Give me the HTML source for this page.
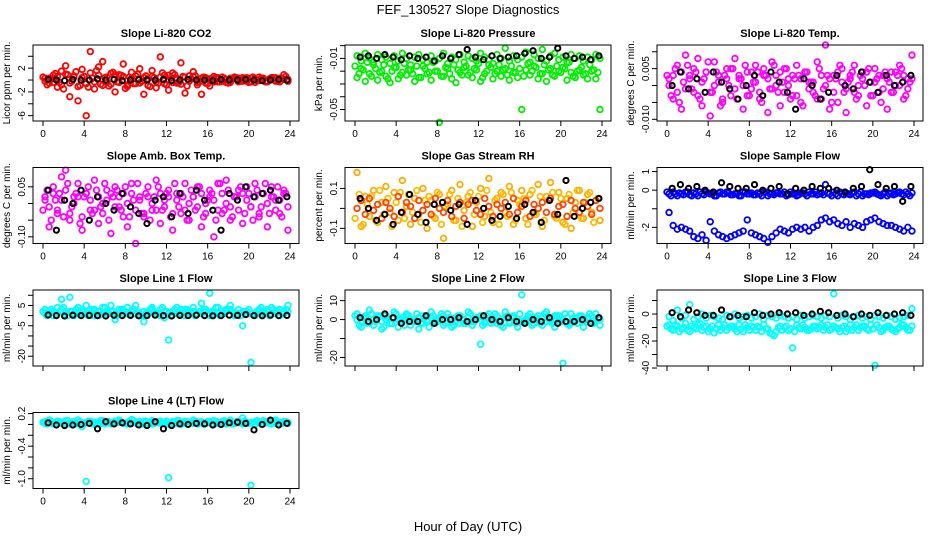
<!DOCTYPE html>
<html><head><meta charset="utf-8"><style>
body{margin:0;background:#fff}
svg{display:block;font-family:"Liberation Sans",Arial,sans-serif}
</style></head><body>
<svg id="chart" width="936" height="540" viewBox="0 0 936 540" xmlns="http://www.w3.org/2000/svg">
<text x="468" y="14" text-anchor="middle" font-size="13">FEF_130527  Slope Diagnostics</text>
<text x="468" y="531" text-anchor="middle" font-size="13">Hour of Day (UTC)</text>
</svg>
<script>
const hoursA = [0.2,0.6,1.0,1.4,1.8,2.2,2.6,3.0,3.4,3.8,4.2,4.6,5.0,5.4,5.8,6.2,6.6,7.0,7.4,7.8,8.2,8.6,9.0,9.4,9.8,10.2,10.6,11.0,11.4,11.8,12.2,12.6,13.0,13.4,13.8,14.2,14.6,15.0,15.4,15.8,16.2,16.6,17.0,17.4,17.8,18.2,18.6,19.0,19.4,19.8,20.2,20.6,21.0,21.4,21.8,22.2,22.6,23.0,23.4,23.8];
const hoursC = [0.0,0.4,0.8,1.2,1.6,2.0,2.4,2.8,3.2,3.6,4.0,4.4,4.8,5.2,5.6,6.0,6.4,6.8,7.2,7.6,8.0,8.4,8.8,9.2,9.6,10.0,10.4,10.8,11.2,11.6,12.0,12.4,12.8,13.2,13.6,14.0,14.4,14.8,15.2,15.6,16.0,16.4,16.8,17.2,17.6,18.0,18.4,18.8,19.2,19.6,20.0,20.4,20.8,21.2,21.6,22.0,22.4,22.8,23.2,23.6];
const hoursK = [0.5,1.3,2.1,2.9,3.7,4.5,5.3,6.1,6.9,7.7,8.5,9.3,10.1,10.9,11.7,12.5,13.3,14.1,14.9,15.7,16.5,17.3,18.1,18.9,19.7,20.5,21.3,22.1,22.9,23.7];
const xTicks = [0,4,8,12,16,20,24];

const co2A = [0.3,-0.5,0.8,-1.2,1.5,2.4,-2.8,0.5,-3.5,1.8,-6.0,4.8,-1.5,2.2,3.1,-0.4,1.1,-2.0,0.9,2.7,-1.1,1.3,-0.6,1.9,-2.4,0.2,1.6,-1.3,3.9,0.8,-1.7,1.2,-0.5,2.9,-2.2,0.7,1.4,-0.8,-2.4,0.4,-1.0,0.6,-0.3,0.5,-0.4,0.3,0.5,-0.3,0.4,-0.2,0.3,-0.4,0.5,0.2,-0.3,0.4,-0.2,0.3,0.9,0.1];
const co2B = [-0.2,0.3,-0.4,0.6,-0.8,1.0,-0.5,0.7,-1.1,0.4,-0.6,1.2,-0.3,0.8,-0.9,0.5,-0.7,0.9,-0.4,0.6,-0.8,0.3,0.7,-0.5,0.4,-0.9,0.6,-0.3,0.5,-0.6,0.8,-0.4,0.3,-0.7,0.5,-0.2,0.6,-0.4,0.3,-0.5,0.2,-0.3,0.4,-0.2,0.1,-0.4,0.2,0.3,-0.2,0.4,-0.3,0.2,-0.1,0.3,-0.2,0.2,0.4,-0.3,0.1,-0.2];
const co2C = [0.5,-0.8,0.2,1.1,-0.4,-1.5,0.9,-0.2,1.4,-0.9,0.6,-1.2,0.3,1.6,-0.7,0.4,-1.0,1.3,-0.3,0.8,-1.4,0.5,-0.6,1.0,-0.2,0.7,-1.1,0.4,-0.5,1.2,-0.8,0.3,0.9,-0.4,0.6,-1.0,0.2,0.7,-0.3,0.5,-0.6,0.2,0.4,-0.3,0.3,-0.5,0.2,0.4,-0.2,0.3,-0.4,0.5,-0.1,0.3,-0.3,0.2,0.4,-0.2,0.3,0.6];
const co2K = [0.1,0,-0.1,0.1,0,0,0.2,0,0.1,-0.1,0,0.1,0,0,0.1,-0.1,0,0.1,0,0,-0.1,0.1,0,0,0.1,0,-0.1,0,0.1,0];

const presA = [-0.025,-0.018,-0.028,-0.022,-0.015,-0.027,-0.020,-0.024,-0.029,-0.017,-0.026,-0.021,-0.023,-0.019,-0.028,-0.025,-0.016,-0.022,-0.027,-0.020,-0.060,-0.024,-0.018,-0.026,-0.029,-0.021,-0.017,-0.023,-0.025,-0.019,-0.028,-0.022,-0.015,-0.026,-0.020,-0.024,-0.018,-0.027,-0.021,-0.025,-0.050,-0.019,-0.023,-0.016,-0.026,-0.022,-0.028,-0.018,-0.024,-0.020,-0.017,-0.027,-0.021,-0.025,-0.019,-0.023,-0.026,-0.020,-0.026,-0.050];
const presB = [-0.008,-0.012,-0.006,-0.010,-0.013,-0.007,-0.011,-0.009,-0.014,-0.008,-0.012,-0.006,-0.010,-0.015,-0.009,-0.007,-0.011,-0.013,-0.008,-0.012,-0.010,-0.006,-0.014,-0.009,-0.011,-0.007,-0.013,-0.008,-0.010,-0.012,-0.006,-0.009,-0.011,-0.014,-0.007,-0.010,-0.002,-0.012,-0.008,-0.011,-0.009,-0.005,-0.013,-0.007,-0.010,-0.003,-0.012,-0.008,-0.006,-0.011,-0.009,-0.013,-0.007,-0.010,-0.008,-0.012,-0.009,-0.011,-0.007,-0.010];
const presC = [-0.016,-0.022,-0.019,-0.013,-0.024,-0.018,-0.021,-0.015,-0.026,-0.020,-0.017,-0.023,-0.014,-0.019,-0.022,-0.016,-0.025,-0.018,-0.021,-0.013,-0.020,-0.024,-0.017,-0.022,-0.015,-0.019,-0.023,-0.016,-0.021,-0.018,-0.014,-0.025,-0.020,-0.017,-0.022,-0.015,-0.019,-0.023,-0.016,-0.021,-0.018,-0.024,-0.014,-0.020,-0.017,-0.022,-0.015,-0.019,-0.023,-0.016,-0.021,-0.018,-0.013,-0.024,-0.020,-0.017,-0.022,-0.015,-0.019,-0.021];
const presK = [-0.009,-0.008,-0.010,-0.007,-0.009,-0.011,-0.008,-0.010,-0.009,-0.012,-0.008,-0.010,-0.007,-0.003,-0.009,-0.011,-0.008,-0.010,-0.009,-0.008,-0.006,-0.004,-0.010,-0.009,-0.002,-0.008,-0.010,-0.009,-0.011,-0.008];

const tempA = [0.002,-0.004,0.006,-0.007,0.009,0.003,-0.002,0.008,-0.006,0.004,-0.009,0.007,0.001,-0.005,0.005,-0.003,0.008,0.002,-0.007,0.004,-0.001,0.006,-0.004,0.003,-0.008,0.007,0.000,-0.006,0.005,0.002,-0.003,0.006,-0.005,0.004,0.001,-0.002,0.007,-0.004,0.012,-0.007,0.003,-0.005,0.005,-0.008,0.002,0.006,-0.003,0.004,-0.006,0.001,0.005,-0.002,0.003,-0.007,0.004,0.000,0.006,-0.004,0.002,0.009];
const tempB = [0.000,0.003,-0.002,0.004,-0.001,0.002,0.005,-0.003,0.001,0.004,-0.002,0.000,0.003,-0.004,0.002,0.005,-0.001,0.003,0.000,-0.003,0.004,0.001,-0.002,0.005,0.002,-0.001,0.003,0.004,-0.002,0.000,0.003,-0.003,0.002,0.004,-0.001,0.001,-0.004,0.003,0.000,0.002,-0.002,0.004,0.001,-0.001,0.003,-0.002,0.000,0.002,0.004,-0.003,0.001,0.003,-0.001,0.002,-0.002,0.004,0.000,0.003,-0.001,0.002];
const tempC = [0.003,-0.003,0.005,-0.005,0.001,0.006,-0.001,0.004,-0.004,0.002,0.007,-0.002,0.004,-0.006,0.003,0.000,0.005,-0.004,0.002,0.006,-0.003,0.001,0.004,-0.005,0.003,-0.001,0.006,-0.002,0.001,0.005,-0.004,0.002,0.003,-0.006,0.004,0.001,-0.003,0.005,-0.001,0.003,-0.005,0.002,0.006,-0.002,0.001,0.004,-0.004,0.003,0.000,0.005,-0.003,0.002,-0.005,0.004,0.001,-0.002,0.003,0.005,-0.003,0.001];
const tempK = [0.0,0.004,-0.001,0.002,-0.002,0.004,0.001,-0.001,-0.004,0.000,0.003,-0.003,0.004,0.001,-0.002,-0.007,0.002,0.000,-0.004,-0.002,0.003,0.000,-0.001,0.004,0.001,-0.002,0.003,0.000,0.001,0.003];

const ambA = [0.01,-0.07,0.05,-0.03,0.08,0.10,-0.05,0.02,0.06,-0.08,0.03,-0.02,0.07,-0.06,0.00,0.04,-0.09,0.05,-0.01,0.03,-0.07,0.06,-0.12,0.02,-0.04,0.05,-0.02,0.07,-0.06,0.01,0.04,-0.08,0.03,-0.03,0.06,-0.05,0.02,0.05,-0.07,0.00,0.04,-0.10,0.06,-0.03,0.07,-0.05,0.02,0.04,-0.06,0.05,-0.01,0.06,-0.04,0.03,-0.07,0.05,0.01,-0.03,0.04,-0.08];
const ambB = [0.02,-0.01,0.03,-0.02,0.01,0.04,-0.03,0.00,0.02,-0.04,0.03,0.01,-0.02,0.02,-0.03,0.01,0.03,-0.01,0.02,-0.04,0.00,0.03,-0.02,0.01,-0.03,0.02,0.00,-0.02,0.03,-0.01,0.02,-0.03,0.01,0.03,-0.02,0.00,0.02,-0.01,0.03,-0.03,0.02,0.01,-0.02,0.03,0.00,-0.01,0.02,-0.02,0.03,0.01,-0.01,0.02,-0.03,0.03,0.00,0.02,-0.02,0.01,0.03,-0.01];
const ambC = [-0.02,0.04,-0.05,0.01,0.03,-0.04,0.06,-0.01,0.03,-0.06,0.02,0.05,-0.03,0.04,-0.01,0.06,-0.05,0.02,0.04,-0.02,0.05,-0.04,0.01,0.06,-0.03,0.03,-0.05,0.02,0.05,-0.02,0.03,-0.04,0.06,-0.01,0.02,-0.05,0.04,-0.02,0.05,-0.04,0.01,0.03,-0.05,0.06,-0.02,0.04,-0.04,0.02,0.05,-0.03,0.03,-0.05,0.04,-0.01,0.06,-0.03,0.02,0.05,-0.04,0.03];
const ambK = [0.04,-0.08,0.01,0.00,0.04,-0.05,0.02,0.00,-0.02,0.03,-0.01,-0.03,-0.06,0.01,0.02,-0.04,0.03,-0.03,0.04,0.01,-0.02,-0.08,0.03,0.01,0.05,0.02,0.03,0.04,0.01,0.02];

const rhA = [0.18,-0.09,0.06,-0.04,0.09,-0.07,0.03,0.11,-0.02,0.08,-0.06,0.14,0.01,-0.08,0.05,-0.03,0.10,-0.10,0.04,-0.05,0.07,-0.15,0.02,0.09,-0.06,0.12,-0.01,0.06,-0.09,0.03,0.10,-0.04,0.15,-0.07,0.05,0.08,-0.02,0.11,-0.08,0.04,0.09,-0.05,0.07,-0.03,0.12,-0.09,0.06,0.13,-0.04,0.08,-0.07,0.05,-0.10,0.03,0.09,-0.05,0.07,-0.02,0.04,-0.06];
const rhB = [0.00,0.04,-0.03,0.05,-0.01,0.02,-0.05,0.03,0.00,-0.04,0.06,-0.02,0.03,0.01,-0.05,0.04,-0.01,0.02,-0.03,0.05,0.00,-0.02,0.04,-0.04,0.01,0.03,-0.05,0.02,0.04,-0.01,-0.03,0.05,0.01,-0.04,0.02,0.00,0.03,-0.03,0.05,-0.02,0.01,0.04,-0.04,0.02,0.00,0.03,-0.02,0.05,-0.03,0.01,0.02,-0.04,0.04,0.00,-0.02,0.03,0.01,-0.03,0.04,0.00];
const rhC = [-0.05,0.07,-0.08,0.02,0.06,-0.06,0.09,-0.03,0.05,-0.09,0.03,0.08,-0.05,0.07,-0.02,0.09,-0.07,0.04,0.06,-0.04,0.08,-0.08,0.01,0.07,-0.06,0.05,-0.09,0.03,0.08,-0.03,0.06,-0.07,0.09,-0.02,0.04,-0.08,0.07,-0.04,0.08,-0.06,0.02,0.05,-0.08,0.09,-0.03,0.06,-0.06,0.04,0.08,-0.05,0.05,-0.08,0.07,-0.02,0.09,-0.05,0.03,0.08,-0.07,0.05];
const rhK = [0.05,0.00,-0.06,-0.03,-0.08,-0.02,0.07,-0.03,-0.07,0.02,0.03,-0.01,0.02,-0.08,0.04,0.00,-0.06,-0.04,0.01,-0.05,0.02,-0.02,-0.07,0.04,-0.03,0.14,-0.04,0.00,0.03,0.05];

const flowA = [-0.2,-0.1,-0.3,-0.2,-0.1,-0.25,-0.15,-0.3,-0.2,-0.1,-0.2,-0.3,-0.15,-0.2,-0.1,-0.25,-0.2,-0.3,-0.1,-0.2,-0.15,-0.25,-0.2,-0.1,-0.3,-0.2,-0.15,-0.2,-0.1,-0.25,-0.2,-0.3,-0.15,-0.2,-0.1,-0.2,-0.25,-0.15,0.3,-0.2,-0.1,-0.3,-0.2,-0.15,-0.25,-0.1,-0.2,-0.3,-0.2,-0.15,-0.1,-0.25,-0.2,-0.3,-0.15,-0.2,-0.1,-0.25,-0.2,-0.15];
const flowB = [-1.2,-1.9,-2.1,-2.0,-2.1,-2.2,-2.5,-2.6,-2.4,-2.7,-1.7,-2.2,-2.4,-2.5,-2.6,-2.5,-2.4,-2.3,-2.2,-1.6,-2.3,-2.4,-2.5,-2.6,-2.8,-2.5,-2.3,-2.1,-2.2,-2.3,-2.1,-2.0,-2.1,-2.0,-2.2,-2.0,-1.9,-1.6,-1.5,-1.7,-1.6,-1.8,-1.9,-1.7,-2.0,-1.8,-1.9,-2.0,-1.7,-1.6,-1.5,-1.7,-1.8,-1.9,-1.9,-2.0,-2.1,-2.2,-2.0,-2.2];
const flowC = [-0.1,-0.3,-0.2,-0.15,-0.25,-0.1,-0.3,-0.2,-0.1,-0.25,-0.15,-0.2,-0.3,-0.1,-0.2,-0.15,-0.25,-0.2,-0.3,-0.1,-0.2,-0.25,-0.15,-0.3,-0.1,-0.2,-0.25,-0.15,-0.2,-0.3,-0.1,-0.2,-0.25,-0.15,-0.3,-0.2,-0.1,-0.2,-0.25,-0.15,-0.3,-0.2,-0.1,-0.25,-0.2,-0.15,-0.3,-0.1,-0.2,-0.25,-0.15,-0.2,-0.3,-0.1,-0.2,-0.25,-0.15,-0.2,-0.1,-0.3];
const flowK = [0.1,0.3,0.1,0.2,0.0,-0.1,0.4,0.2,0.1,0.1,0.3,0.0,0.1,0.2,-0.2,0.1,0.0,0.2,0.1,0.1,0.0,-0.1,0.1,0.2,1.1,0.3,0.1,0.2,-0.6,0.2];

const l1A = [3,1,2,4,8,2,9,1,4,3,5,1,3,0,4,2,5,-2,3,1,4,2,5,1,-3,2,4,1,3,-1,-12,2,4,1,3,2,4,1,6,2,11,1,4,2,3,5,1,3,-5,2,-23,1,3,2,2,4,1,3,2,5];
const l1B = [1,2,0,1,3,1,2,0,1,2,1,3,0,2,1,1,2,0,1,3,1,2,1,0,2,1,3,1,0,2,1,2,1,3,0,1,2,1,1,3,0,2,1,1,2,3,0,1,2,1,1,0,2,1,3,1,2,0,1,2];
const l1C = [2,0,3,1,2,4,0,2,3,1,2,0,3,1,2,4,1,2,0,3,2,1,3,2,0,1,3,2,1,4,2,0,3,1,2,3,1,0,2,3,1,2,4,0,1,3,2,1,0,2,3,1,2,4,1,0,3,2,1,3];
const l1K = [0.3,0,-0.2,0.2,0,0.1,0,-0.2,0.2,0,0.1,-0.1,0,0.2,0,-0.2,0.1,0,0.2,0,-0.1,0,0.2,0.1,0.5,0,-0.1,0.2,0,0.1];

const l2A = [3,-4,2,5,-3,1,-5,2,-2,4,-4,1,3,-3,0,-5,2,-1,4,-2,1,-3,3,-4,-1,2,-2,4,-3,1,-13,-2,3,-1,2,-3,4,-2,1,-4,13,-1,3,-2,2,-3,4,-1,-4,2,-23,-2,3,-1,2,-4,1,-2,3,-3];
const l2B = [0,-1,1,-2,0,2,-1,0,-2,1,0,-1,2,0,-1,1,-2,0,1,-1,0,2,-1,0,1,-2,0,1,-1,0,2,-1,0,1,-2,0,1,-1,2,0,-1,0,1,-2,0,1,-1,0,2,-1,0,1,-2,0,1,-1,0,2,-1,0];
const l2C = [2,-3,1,-2,3,-1,2,-4,1,-2,3,0,-3,2,-1,3,-2,1,-4,2,-1,3,-2,1,-3,2,0,-2,3,-1,1,-3,2,-2,3,-1,-4,2,1,-2,3,-1,2,-3,1,-2,3,0,-2,2,-1,3,-3,1,-2,2,-1,3,-2,1];
const l2K = [1,-1,0,3,1,-2,-1,-1,2,-2,0,0,1,-1,0,2,0,-1,1,-1,-2,0,-1,1,-2,-1,-1,0,-2,1];

const l3A = [-8,-12,-9,-11,-7,-13,-10,-8,-12,-9,-11,-14,-8,-10,-12,-9,-11,-8,-13,-10,-9,-12,-10,-8,-11,-15,-13,-9,-10,-12,-25,-8,-11,-10,-12,-9,-11,-8,-10,-12,-9,-11,-10,-13,-8,-10,-12,-9,-11,-8,-38,-10,-12,-9,-11,-13,-10,-8,-12,-9];
const l3B = [-2,-5,3,-3,-1,7,-4,-2,0,-3,-1,-2,-3,-4,-1,-2,0,-3,-2,-1,-3,-2,0,-4,-1,-2,-3,-1,-2,-3,-2,-4,-1,-3,-2,-1,-2,-3,-1,-2,15,-3,-1,-2,-4,-2,-1,-3,-2,-4,-1,-2,-3,-1,-2,-4,-3,-2,-1,4];
const l3C = [-9,-11,-8,-13,-10,-12,-9,-11,-7,-10,-13,-9,-11,-12,-8,-10,-9,-13,-11,-8,-12,-10,-9,-13,-11,-14,-16,-10,-12,-9,-11,-13,-10,-8,-12,-11,-9,-10,-12,-8,-11,-10,-13,-9,-11,-12,-8,-10,-9,-12,-11,-8,-13,-10,-9,-12,-11,-8,-10,-12];
const l3K = [1,-2,3,1,-1,-1,3,-2,-1,-2,1,-1,0,1,0,1,-1,0,2,1,-1,0,-2,0,-1,1,-1,0,1,-1];

const l4A = [0.05,0.08,0.02,0.06,0.03,0.07,0.01,0.05,0.08,-0.04,-1.05,0.06,0.04,0.02,0.07,0.05,0.03,0.06,0.08,0.02,0.04,0.09,0.03,0.06,0.05,0.02,0.07,0.04,0.06,0.03,-0.98,0.05,0.07,0.02,0.06,0.04,0.08,0.03,0.05,0.02,0.06,0.07,0.03,0.05,0.04,0.08,0.02,0.06,0.12,0.04,-1.12,0.05,0.03,0.07,0.04,0.06,0.08,0.03,0.05,0.04];
const l4B = [0.02,0.03,0.01,0.04,0.02,0.00,0.03,0.02,0.04,0.01,0.03,0.02,0.00,0.04,0.02,0.03,0.01,0.02,0.04,0.03,0.01,0.02,0.03,0.00,0.04,0.02,0.01,0.03,0.02,0.04,0.01,0.03,0.02,0.00,0.03,0.04,0.02,0.01,0.03,0.02,0.04,0.00,0.02,0.03,0.01,0.04,0.02,0.03,0.01,0.02,0.03,0.00,0.04,0.02,0.03,0.01,0.02,0.04,0.03,0.02];
const l4C = [0.04,0.01,0.06,0.03,0.05,0.02,0.07,0.04,0.01,0.05,0.03,0.06,0.02,0.04,0.07,0.01,0.05,0.03,0.06,0.04,0.02,0.05,0.07,0.03,0.01,0.06,0.04,0.02,0.05,0.03,0.06,0.01,0.04,0.07,0.02,0.05,0.03,0.06,0.04,0.01,0.05,0.02,0.06,0.03,0.07,0.04,0.01,0.05,0.03,0.06,0.02,0.04,0.07,0.01,0.05,0.03,0.06,0.04,0.02,0.05];
const l4K = [0.03,-0.01,-0.02,-0.01,0.00,0.02,-0.08,0.05,0.01,0.03,0.01,-0.01,-0.02,0.05,-0.08,-0.02,0.01,0.00,0.02,0.01,-0.01,0.00,0.03,0.04,0.02,-0.10,0.00,0.08,-0.01,0.02];

const panels = [
 {name:'co2',title:'Slope Li-820 CO2',yl:'Licor ppm per min.',col:0,row:0,dom:[-6.9,5.9],ticks:[-6,-4,-2,0,2,4],labels:['-6','','-2','','2',''],A:co2A,B:co2B,C:co2C,K:co2K,cA:'#ff0000',cB:'#ff0000',cC:'#ff0000'},
 {name:'pressure',title:'Slope Li-820 Pressure',yl:'kPa per min.',col:1,row:0,dom:[-0.059,0.0005],ticks:[-0.05,-0.04,-0.03,-0.02,-0.01,0],labels:['-0.05','','','','-0.01',''],A:presA,B:presB,C:presC,K:presK,cA:'#00ee00',cB:'#00ee00',cC:'#00ee00'},
 {name:'licor-temp',title:'Slope Li-820 Temp.',yl:'degrees C per min.',col:2,row:0,dom:[-0.0105,0.012],ticks:[-0.01,-0.005,0,0.005,0.01],labels:['-0.010','','','0.005',''],A:tempA,B:tempB,C:tempC,K:tempK,cA:'#ff00ff',cB:'#ff00ff',cC:'#ff00ff'},
 {name:'amb-box-temp',title:'Slope Amb. Box Temp.',yl:'degrees C per min.',col:0,row:1,dom:[-0.12,0.108],ticks:[-0.1,-0.05,0,0.05],labels:['-0.10','','','0.05'],A:ambA,B:ambB,C:ambC,K:ambK,cA:'#ff00ff',cB:'#ff00ff',cC:'#ff00ff'},
 {name:'gas-stream-rh',title:'Slope Gas Stream RH',yl:'percent per min.',col:1,row:1,dom:[-0.176,0.205],ticks:[-0.1,0,0.1],labels:['-0.1','','0.1'],A:rhA,B:rhB,C:rhC,K:rhK,cA:'#ffaa00',cB:'#ff4400',cC:'#ffbb00'},
 {name:'sample-flow',title:'Slope Sample Flow',yl:'ml/min per min.',col:2,row:1,dom:[-2.87,1.22],ticks:[-2,-1,0,1],labels:['-2','','0','1'],A:flowA,B:flowB,C:flowC,K:flowK,cA:'#0000ff',cB:'#0000ff',cC:'#0000ff'},
 {name:'line1-flow',title:'Slope Line 1 Flow',yl:'ml/min per min.',col:0,row:2,dom:[-24.8,12.6],ticks:[-20,-15,-10,-5,0,5,10],labels:['-20','','','-5','','5',''],A:l1A,B:l1B,C:l1C,K:l1K,cA:'#00ffff',cB:'#00ffff',cC:'#00ffff'},
 {name:'line2-flow',title:'Slope Line 2 Flow',yl:'ml/min per min.',col:1,row:2,dom:[-24.5,15.6],ticks:[-20,-10,0,10],labels:['-20','','0','10'],A:l2A,B:l2B,C:l2C,K:l2K,cA:'#00ffff',cB:'#00ffff',cC:'#00ffff'},
 {name:'line3-flow',title:'Slope Line 3 Flow',yl:'ml/min per min.',col:2,row:2,dom:[-38.5,17.8],ticks:[-40,-30,-20,-10,0,10],labels:['-40','','-20','','0',''],A:l3A,B:l3B,C:l3C,K:l3K,cA:'#00ffff',cB:'#00ffff',cC:'#00ffff'},
 {name:'line4-flow',title:'Slope Line 4 (LT) Flow',yl:'ml/min per min.',col:0,row:3,dom:[-1.18,0.22],ticks:[-1.0,-0.8,-0.6,-0.4,-0.2,0,0.2],labels:['-1.0','','','-0.4','','','0.2'],A:l4A,B:l4B,C:l4C,K:l4K,cA:'#00ffff',cB:'#00ffff',cC:'#00ffff'}
];

const NS='http://www.w3.org/2000/svg';
const svg=document.getElementById('chart');
function mk(tag,attrs,parent,txt){const e=document.createElementNS(NS,tag);for(const k in attrs)e.setAttribute(k,attrs[k]);if(txt!==undefined)e.textContent=txt;parent.appendChild(e);return e;}
const colLeft=[33,345,657], rowTop=[45,167.5,290,412.5], boxW=266, boxH=76;

panels.forEach(p=>{
  const L=colLeft[p.col], T=rowTop[p.row], B=T+boxH, R=L+boxW;
  const xS=h=>L+10+h*(247/24);
  const yS=v=>B-(v-p.dom[0])/(p.dom[1]-p.dom[0])*boxH;
  const g=mk('g',{},svg);
  
  
  const t=mk('text',{x:(L+R)/2,y:T-8,'text-anchor':'middle','font-size':'11','font-weight':'bold'},g,p.title);
  
  
  const yl=mk('text',{x:0,y:0,transform:`translate(${L-23},${(T+B)/2}) rotate(-90)`,'text-anchor':'middle','font-size':'10'},g,p.yl);
  
  
  const series=[[p.A,hoursA,p.cA,'a',2.8,1.8],[p.C,hoursC,p.cC,'c',2.8,1.8],[p.B,hoursA,p.cB,'b',2.8,1.8],[p.K,hoursK,'#000000','k',2.6,2]];
  series.forEach(([vals,hrs,color,tag,r,sw])=>{
    vals.forEach((v,i)=>{
      const c=mk('circle',{cx:xS(hrs[i]),cy:yS(v),r:r,fill:'none',stroke:color,'stroke-width':sw},g);
      
      
    });
  });
  const box=mk('rect',{x:L,y:T,width:boxW,height:boxH,fill:'none',stroke:'#000','stroke-width':1},g);
  
  
  xTicks.forEach(h=>{
    const x=xS(h);
    mk('line',{x1:x,y1:B,x2:x,y2:B+5,stroke:'#000'},g);
    if(p.row!==2){
      const lab=mk('text',{x:x,y:B+16,'text-anchor':'middle','font-size':'10'},g,String(h));
      
      
    }
  });
  p.ticks.forEach((v,i)=>{
    const y=yS(v);
    mk('line',{x1:L-5,y1:y,x2:L,y2:y,stroke:'#000'},g);
    if(p.labels[i]){
      const lab=mk('text',{x:0,y:0,transform:`translate(${L-8},${y}) rotate(-90)`,'text-anchor':'middle','font-size':'10'},g,p.labels[i]);
      
      
    }
  });
});
</script>
</body></html>
